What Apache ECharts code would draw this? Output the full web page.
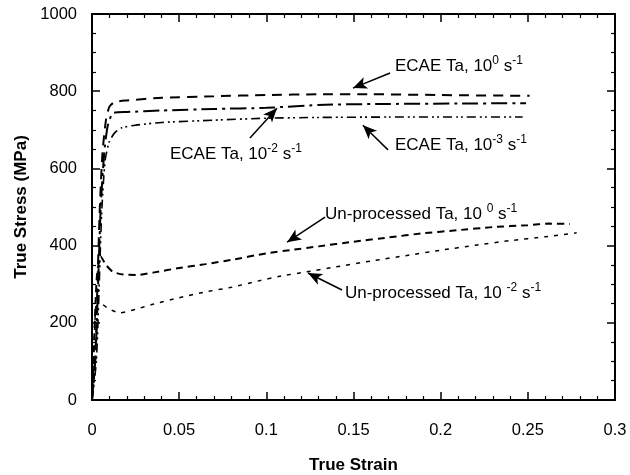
<!DOCTYPE html>
<html>
<head>
<meta charset="utf-8">
<script src="https://cdn.jsdelivr.net/npm/echarts@6/dist/echarts.min.js"></script>
<style>
  html, body { margin: 0; padding: 0; background: #fff; }
  #chart { width: 630px; height: 475px; }
</style>
</head>
<body>
<div id="chart"></div>
<script>
// strain, stress (MPa) pairs
const ecae0 = [[0, 0], [0.002, 120], [0.003, 280], [0.0045, 500], [0.006, 640], [0.008, 725], [0.01, 760],
  [0.013, 772], [0.02, 776], [0.04, 783], [0.07, 787], [0.1, 790], [0.13, 792], [0.16, 792], [0.2, 790], [0.251, 788]];
const ecae2 = [[0, 0], [0.002, 110], [0.0035, 300], [0.005, 500], [0.007, 640], [0.009, 710], [0.012, 743],
  [0.02, 746], [0.04, 750], [0.07, 754], [0.1, 757], [0.134, 765], [0.17, 767], [0.21, 768], [0.249, 769]];
const ecae3 = [[0, 0], [0.0025, 100], [0.004, 280], [0.0055, 480], [0.0075, 620], [0.01, 670], [0.013, 692],
  [0.017, 705], [0.025, 712], [0.04, 719], [0.07, 725], [0.1, 730], [0.13, 732], [0.17, 733], [0.21, 733], [0.247, 733]];
const unp0 = [[0, 0], [0.001, 120], [0.002, 250], [0.003, 330], [0.005, 372], [0.008, 350], [0.012, 332],
  [0.018, 325], [0.026, 324], [0.035, 330], [0.05, 342], [0.065, 352], [0.08, 363], [0.1, 380], [0.115, 389],
  [0.13, 398], [0.15, 410], [0.17, 421], [0.19, 432], [0.21, 440], [0.23, 448], [0.25, 453], [0.262, 457], [0.274, 456]];
const unp2 = [[0, 0], [0.001, 130], [0.002, 230], [0.003, 262], [0.006, 248], [0.01, 235], [0.016, 226],
  [0.025, 235], [0.035, 248], [0.05, 265], [0.065, 280], [0.08, 292], [0.095, 308], [0.107, 320], [0.123, 332],
  [0.14, 345], [0.16, 360], [0.18, 374], [0.2, 388], [0.22, 401], [0.24, 413], [0.26, 423], [0.278, 433]];

// annotation labels: text, anchor [strain, stress] (left edge, middle)
const labelTexts = [
  'ECAE Ta, 10{sup|0} s{sup|-1}',
  'ECAE Ta, 10{sup|-2} s{sup|-1}',
  'ECAE Ta, 10{sup|-3} s{sup|-1}',
  'Un-processed Ta, 10 {sup|0} s{sup|-1}',
  'Un-processed Ta, 10 {sup|-2} s{sup|-1}'
];
const labelAnchors = [[0.1738, 865], [0.0447, 637], [0.1738, 661], [0.1337, 482], [0.1451, 277]];
// arrows: tail -> tip
const arrowTails = [[0.171, 847], [0.0906, 679], [0.1698, 648], [0.1337, 474], [0.1434, 285]];
const arrowTips = [[0.1497, 808], [0.1061, 756], [0.1554, 712], [0.1119, 409], [0.1239, 329]];

const xTicks = { min: 0, max: 0.3, interval: 0.05 };
const yTicks = { min: 0, max: 1000, interval: 200 };

const font = 'Liberation Sans, Arial, sans-serif';
const chart = echarts.init(document.getElementById('chart'));

function axisBase(show, minorSplit) {
  return {
    axisLine: { show: true, onZero: false, lineStyle: { color: '#000', width: 2 } },
    axisTick: { show: true, inside: true, length: 8, lineStyle: { color: '#000', width: 1.5 } },
    minorTick: { show: true, splitNumber: minorSplit, length: 4, lineStyle: { color: '#000', width: 1.2 } },
    splitLine: { show: false },
    axisLabel: { show: show, color: '#000', fontSize: 16.5, fontFamily: font }
  };
}

function lineSeries(name, data, dash, width) {
  return {
    name: name,
    type: 'line',
    data: data,
    showSymbol: false,
    symbol: 'none',
    smooth: 0.2,
    lineStyle: { color: '#000', width: width, type: dash },
    z: 3
  };
}

const arrows = arrowTails.map(function (t, i) {
  return [{ coord: t }, { coord: arrowTips[i] }];
});

const titleStyle = { color: '#000', fontSize: 17, fontWeight: 'bold', fontFamily: font };
const xMain = axisBase(true, 5);
xMain.axisLabel.margin = 22;
const yMain = axisBase(true, 4);
yMain.axisLabel.margin = 15;
yMain.axisLabel.formatter = function (v) { return String(v); };

chart.setOption({
  animation: false,
  backgroundColor: '#fff',
  grid: { left: 92, right: 15, top: 14, bottom: 75, outerBoundsMode: 'none', containLabel: false },
  xAxis: [
    Object.assign(xMain, {
      type: 'value', position: 'bottom', min: xTicks.min, max: xTicks.max, interval: xTicks.interval,
      name: 'True Strain', nameLocation: 'middle', nameGap: 57, nameTextStyle: titleStyle
    }),
    Object.assign(axisBase(false, 5), {
      type: 'value', position: 'top', min: xTicks.min, max: xTicks.max, interval: xTicks.interval
    })
  ],
  yAxis: [
    Object.assign(yMain, {
      type: 'value', position: 'left', min: yTicks.min, max: yTicks.max, interval: yTicks.interval,
      name: 'True Stress (MPa)', nameLocation: 'middle', nameGap: 62, nameTextStyle: titleStyle
    }),
    Object.assign(axisBase(false, 4), {
      type: 'value', position: 'right', min: yTicks.min, max: yTicks.max, interval: yTicks.interval
    })
  ],
  series: [
    lineSeries('ECAE 1e0', ecae0, [10, 7], 2),
    lineSeries('ECAE 1e-2', ecae2, [16, 5, 3, 5], 2),
    lineSeries('ECAE 1e-3', ecae3, [9, 4, 2, 3, 2, 4], 1.6),
    lineSeries('Unprocessed 1e0', unp0, [7, 5], 2),
    lineSeries('Unprocessed 1e-2', unp2, [4, 6], 1.5),
    {
      type: 'line',
      data: [],
      markLine: {
        silent: true,
        symbol: ['none', 'arrow'],
        symbolSize: [9, 14],
        label: { show: false },
        lineStyle: { color: '#000', width: 1.5, type: 'solid' },
        data: arrows
      }
    }
  ]
});

// place the annotation texts in data space
const rich = {
  sup: { fontSize: 12, fontFamily: font, color: '#000', padding: [0, 0, 10, 0] }
};
const texts = labelTexts.map(function (t, i) {
  const p = chart.convertToPixel({ xAxisIndex: 0, yAxisIndex: 0 }, labelAnchors[i]);
  return {
    type: 'text',
    x: p[0],
    y: p[1],
    style: {
      text: t,
      fill: '#000',
      font: '17px ' + font,
      verticalAlign: 'middle',
      rich: rich
    },
    z: 10
  };
});
chart.setOption({ graphic: texts });
</script>
</body>
</html>
